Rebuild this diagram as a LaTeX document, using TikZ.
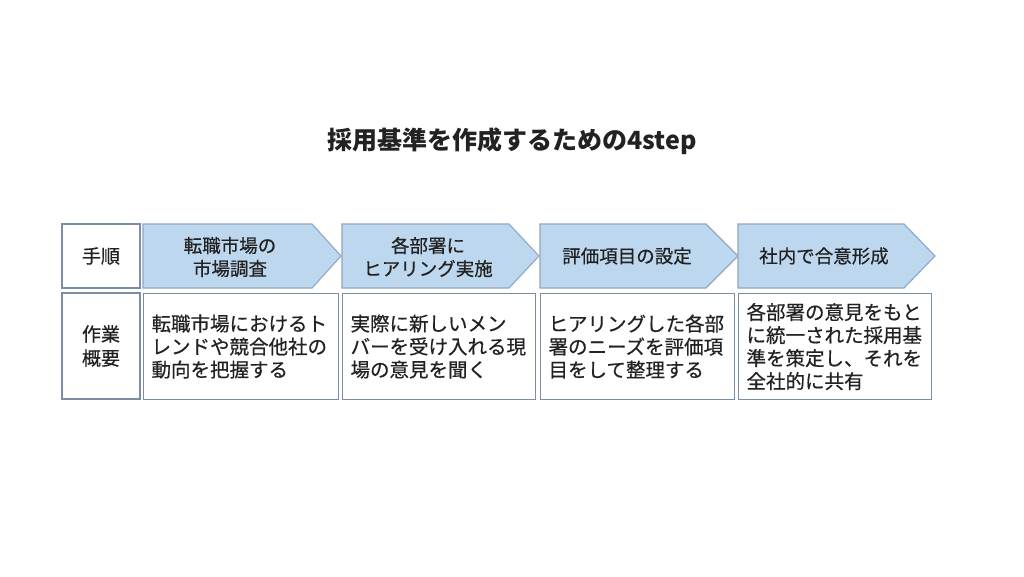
\documentclass[tikz,border=0pt]{standalone}
\usepackage{fontspec}
\setmainfont{Noto Sans CJK JP}[UprightFeatures={FakeBold=0.5}]
\definecolor{arrowfill}{HTML}{BDD7EE}
\definecolor{arrowline}{HTML}{8FA7BF}
\definecolor{boxline}{HTML}{7A8FA3}
\definecolor{txt}{HTML}{222222}
\tikzset{
  titletext/.style={font=\fontsize{25}{30}\selectfont\bfseries, text=txt, inner sep=0},
  stepshape/.style={fill=arrowfill, draw=arrowline, line width=1.1pt, line join=miter},
  steptext/.style={font=\fontsize{18.5}{23}\selectfont, text=txt, align=center, inner sep=0},
  sidebox/.style={draw=boxline, line width=1.1pt, fill=white, minimum width=78, text=txt, align=center, inner sep=0, font=\fontsize{19}{24}\selectfont},
  descbox/.style={draw=boxline, line width=1.1pt, fill=white, anchor=north west, minimum height=106, inner xsep=8, inner ysep=0, text=txt, align=left, font=\fontsize{19.5}{23}\selectfont},
}
\begin{document}
\begin{tikzpicture}[x=1pt,y=-1pt]
\useasboundingbox[fill=white] (0,0) rectangle (1024,576);
\node[titletext] (title) at (512,141) {採用基準を作成するための4step};

% header row
\node[sidebox, minimum height=64] (h0) at (101,256) {手順};
\draw[stepshape] (143,224) -- (312,224) -- (341,256) -- (312,288) -- (143,288) -- cycle;
\draw[stepshape] (342,224) -- (509,224) -- (539,256) -- (509,288) -- (342,288) -- cycle;
\draw[stepshape] (540,224) -- (706,224) -- (738,256) -- (706,288) -- (540,288) -- cycle;
\draw[stepshape] (738,224) -- (904,224) -- (935,256) -- (904,288) -- (738,288) -- cycle;
\node[steptext] (s1) at (230,257) {転職市場の\\市場調査};
\node[steptext] (s2) at (428,257) {各部署に\\ヒアリング実施};
\node[steptext] (s3) at (627,256) {評価項目の設定};
\node[steptext] (s4) at (824,256) {社内で合意形成};

% description row
\node[sidebox, minimum height=106] (d0) at (101,346) {作業\\概要};
\node[descbox, text width=179, minimum width=195] (d1) at (143,293) {転職市場におけるト\\レンドや競合他社の\\動向を把握する};
\node[descbox, text width=177, minimum width=193] (d2) at (342,293) {実際に新しいメン\\バーを受け入れる現\\場の意見を聞く};
\node[descbox, text width=178, minimum width=194] (d3) at (540,293) {ヒアリングした各部\\署のニーズを評価項\\目をして整理する};
\node[descbox, text width=177, minimum width=193] (d4) at (738,293) {各部署の意見をもと\\に統一された採用基\\準を策定し、それを\\全社的に共有};
\end{tikzpicture}
\end{document}
